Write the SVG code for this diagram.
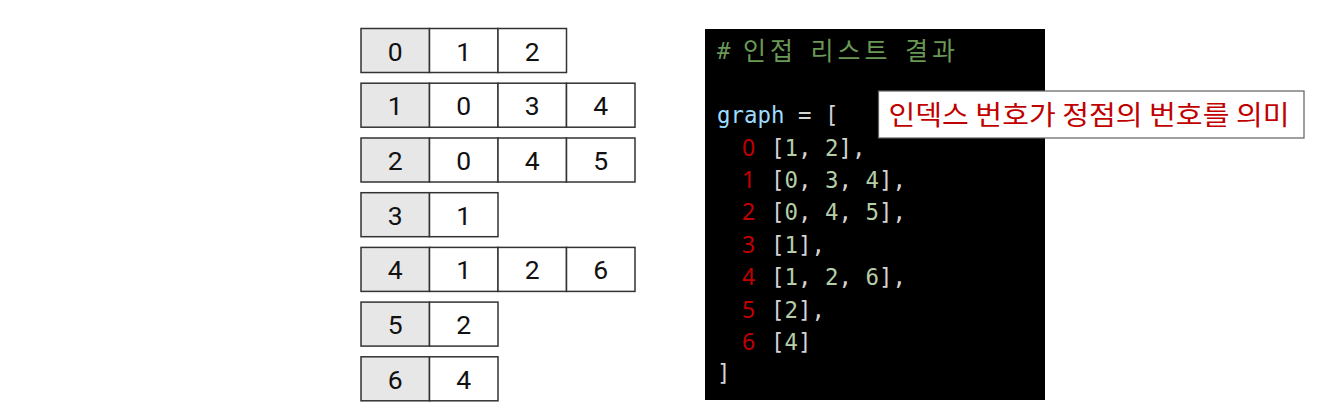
<svg xmlns="http://www.w3.org/2000/svg" width="1342" height="406" viewBox="0 0 1342 406">
<style>
.cell{fill:#ffffff;stroke:#333333;stroke-width:1.5}
.head{fill:#e7e7e7;stroke:#333333;stroke-width:1.5}
.num{font-family:Roboto,"Liberation Sans",sans-serif;font-size:26.5px;fill:#111111;text-anchor:middle}
.mono{font-family:"DejaVu Sans Mono","Liberation Mono",monospace;font-size:22.4px;letter-spacing:0.02px;fill:#d4d4d4}
.idx{font-family:"Noto Sans","Liberation Sans",sans-serif;font-size:23px;fill:#c00000}
.kr{font-family:"Noto Sans CJK KR",sans-serif;font-size:25px;fill:#6a9955}
.v{fill:#b5cea8}
.g{fill:#9cdcfe}
.label{font-family:"Noto Sans CJK KR",sans-serif;font-size:27px;fill:#c00000;text-anchor:middle}
</style>
<rect width="1342" height="406" fill="#ffffff"/>
<g id="table">
<g id="row0">
<rect class="head" x="361" y="28.5" width="68.5" height="44"/><rect class="cell" x="429.5" y="28.5" width="68.5" height="44"/><rect class="cell" x="498" y="28.5" width="68.5" height="44"/>
<text class="num" x="395.2" y="60.5">0</text><text class="num" x="463.7" y="60.5">1</text><text class="num" x="532.2" y="60.5">2</text>
</g>
<g id="row1">
<rect class="head" x="361" y="83.2" width="68.5" height="44"/><rect class="cell" x="429.5" y="83.2" width="68.5" height="44"/><rect class="cell" x="498" y="83.2" width="68.5" height="44"/><rect class="cell" x="566.5" y="83.2" width="68.5" height="44"/>
<text class="num" x="395.2" y="115.2">1</text><text class="num" x="463.7" y="115.2">0</text><text class="num" x="532.2" y="115.2">3</text><text class="num" x="600.7" y="115.2">4</text>
</g>
<g id="row2">
<rect class="head" x="361" y="138" width="68.5" height="44"/><rect class="cell" x="429.5" y="138" width="68.5" height="44"/><rect class="cell" x="498" y="138" width="68.5" height="44"/><rect class="cell" x="566.5" y="138" width="68.5" height="44"/>
<text class="num" x="395.2" y="170">2</text><text class="num" x="463.7" y="170">0</text><text class="num" x="532.2" y="170">4</text><text class="num" x="600.7" y="170">5</text>
</g>
<g id="row3">
<rect class="head" x="361" y="192.7" width="68.5" height="44"/><rect class="cell" x="429.5" y="192.7" width="68.5" height="44"/>
<text class="num" x="395.2" y="224.7">3</text><text class="num" x="463.7" y="224.7">1</text>
</g>
<g id="row4">
<rect class="head" x="361" y="247.4" width="68.5" height="44"/><rect class="cell" x="429.5" y="247.4" width="68.5" height="44"/><rect class="cell" x="498" y="247.4" width="68.5" height="44"/><rect class="cell" x="566.5" y="247.4" width="68.5" height="44"/>
<text class="num" x="395.2" y="279.4">4</text><text class="num" x="463.7" y="279.4">1</text><text class="num" x="532.2" y="279.4">2</text><text class="num" x="600.7" y="279.4">6</text>
</g>
<g id="row5">
<rect class="head" x="361" y="302.1" width="68.5" height="44"/><rect class="cell" x="429.5" y="302.1" width="68.5" height="44"/>
<text class="num" x="395.2" y="334.1">5</text><text class="num" x="463.7" y="334.1">2</text>
</g>
<g id="row6">
<rect class="head" x="361" y="356.8" width="68.5" height="44"/><rect class="cell" x="429.5" y="356.8" width="68.5" height="44"/>
<text class="num" x="395.2" y="388.8">6</text><text class="num" x="463.7" y="388.8">4</text>
</g>
</g>
<g id="code">
<rect x="705" y="29" width="340" height="371" fill="#000000"/>
<text class="mono" x="717" y="59" style="fill:#6a9955">#</text>
<text class="kr" x="743 770" y="60">인접</text>
<text class="kr" x="810.5 837.5 864.5" y="60">리스트</text>
<text class="kr" x="905 932" y="60">결과</text>
<text class="mono" x="717" y="123" xml:space="preserve"><tspan class="g">graph</tspan> = [</text>
<text class="idx" x="742" y="155.5">0</text>
<text class="mono" x="771" y="155.5">[<tspan class="v">1</tspan>, <tspan class="v">2</tspan>],</text>
<text class="idx" x="742" y="187.8">1</text>
<text class="mono" x="771" y="187.8">[<tspan class="v">0</tspan>, <tspan class="v">3</tspan>, <tspan class="v">4</tspan>],</text>
<text class="idx" x="742" y="220">2</text>
<text class="mono" x="771" y="220">[<tspan class="v">0</tspan>, <tspan class="v">4</tspan>, <tspan class="v">5</tspan>],</text>
<text class="idx" x="742" y="252.5">3</text>
<text class="mono" x="771" y="252.5">[<tspan class="v">1</tspan>],</text>
<text class="idx" x="742" y="285">4</text>
<text class="mono" x="771" y="285">[<tspan class="v">1</tspan>, <tspan class="v">2</tspan>, <tspan class="v">6</tspan>],</text>
<text class="idx" x="742" y="318">5</text>
<text class="mono" x="771" y="318">[<tspan class="v">2</tspan>],</text>
<text class="idx" x="742" y="349.5">6</text>
<text class="mono" x="771" y="349.5">[<tspan class="v">4</tspan>]</text>
<text class="mono" x="717" y="381">]</text>
</g>
<g id="label">
<rect x="878.5" y="91" width="425.5" height="47" fill="#ffffff" stroke="#606060" stroke-width="1.2"/>
<text class="label" x="1089" y="125" textLength="401" lengthAdjust="spacingAndGlyphs">인덱스 번호가 정점의 번호를 의미</text>
</g>
</svg>
